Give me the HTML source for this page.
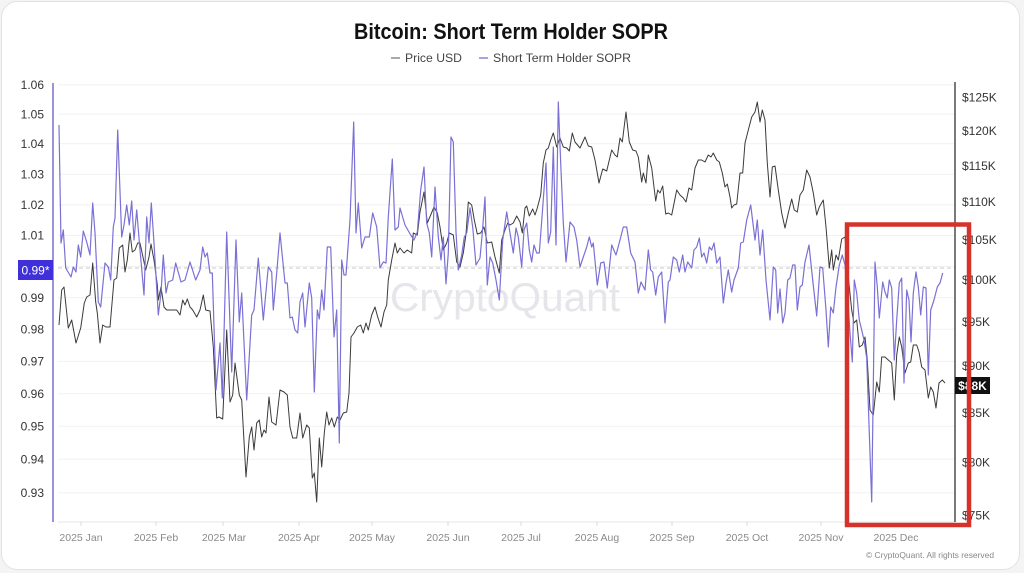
<!DOCTYPE html>
<html>
<head>
<meta charset="utf-8">
<style>
  html,body{margin:0;padding:0;background:#fff;}
  svg{display:block;}
  text{font-family:"Liberation Sans",sans-serif;}
</style>
</head>
<body>
<svg width="1024" height="573" viewBox="0 0 1024 573" xmlns="http://www.w3.org/2000/svg">
  <rect x="0" y="0" width="1024" height="573" fill="#f4f4f4"/>
  <rect x="1.5" y="1.5" width="1018" height="568" rx="16" ry="16" fill="#ffffff" stroke="#e2e2e2" stroke-width="1"/>

  <!-- Title -->
  <text x="511" y="39" text-anchor="middle" font-size="22" font-weight="bold" fill="#111" textLength="314" lengthAdjust="spacingAndGlyphs">Bitcoin: Short Term Holder SOPR</text>

  <!-- Legend -->
  <line x1="391" y1="58" x2="400" y2="58" stroke="#8c8c8c" stroke-width="1.5"/>
  <text x="405" y="62" font-size="11.5" fill="#444" textLength="57" lengthAdjust="spacingAndGlyphs">Price USD</text>
  <line x1="479" y1="58" x2="488" y2="58" stroke="#8a84d0" stroke-width="1.5"/>
  <text x="493" y="62" font-size="11.5" fill="#444" textLength="138" lengthAdjust="spacingAndGlyphs">Short Term Holder SOPR</text>

  <!-- Gridlines -->
  <g stroke="#f1f1f1" stroke-width="1">
    <line x1="58" y1="84.7" x2="955" y2="84.7"/>
    <line x1="58" y1="114.1" x2="955" y2="114.1"/>
    <line x1="58" y1="143.8" x2="955" y2="143.8"/>
    <line x1="58" y1="174.2" x2="955" y2="174.2"/>
    <line x1="58" y1="204.9" x2="955" y2="204.9"/>
    <line x1="58" y1="235.4" x2="955" y2="235.4"/>
    <line x1="58" y1="266.4" x2="955" y2="266.4"/>
    <line x1="58" y1="297.7" x2="955" y2="297.7"/>
    <line x1="58" y1="329.3" x2="955" y2="329.3"/>
    <line x1="58" y1="361.4" x2="955" y2="361.4"/>
    <line x1="58" y1="393.7" x2="955" y2="393.7"/>
    <line x1="58" y1="426.3" x2="955" y2="426.3"/>
    <line x1="58" y1="459.3" x2="955" y2="459.3"/>
    <line x1="58" y1="492.7" x2="955" y2="492.7"/>
  </g>
  <!-- x axis baseline -->
  <line x1="58" y1="522" x2="955" y2="522" stroke="#e4e4e4" stroke-width="1"/>
  <g stroke="#dcdcdc" stroke-width="1">
    <line x1="81" y1="522" x2="81" y2="526"/>
    <line x1="156" y1="522" x2="156" y2="526"/>
    <line x1="223" y1="522" x2="223" y2="526"/>
    <line x1="299" y1="522" x2="299" y2="526"/>
    <line x1="372" y1="522" x2="372" y2="526"/>
    <line x1="448" y1="522" x2="448" y2="526"/>
    <line x1="521" y1="522" x2="521" y2="526"/>
    <line x1="597" y1="522" x2="597" y2="526"/>
    <line x1="672" y1="522" x2="672" y2="526"/>
    <line x1="747" y1="522" x2="747" y2="526"/>
    <line x1="821" y1="522" x2="821" y2="526"/>
    <line x1="896" y1="522" x2="896" y2="526"/>
  </g>

  <!-- dashed current line -->
  <line x1="58" y1="268" x2="955" y2="268" stroke="#c9c9c9" stroke-width="1" stroke-dasharray="4,3"/>

  <!-- Watermark -->
  <text x="390" y="311" font-size="40" fill="#e5e5ea" textLength="230" lengthAdjust="spacingAndGlyphs">CryptoQuant</text>

  <!-- Axis lines -->
  <line x1="53" y1="83" x2="53" y2="522" stroke="#7f78d2" stroke-width="1.6"/>
  <line x1="955" y1="82" x2="955" y2="522" stroke="#222" stroke-width="1.2"/>

  <!-- Price series -->
  <polyline fill="none" stroke="#3a3a3a" stroke-width="1" stroke-linejoin="round" points="59,325 61.7,290 64,287 68.3,328 71.7,320 76,343 80.7,328 84.3,303 86.7,297 90,295 92.7,263 95.7,302 97.3,313 100,343 102.7,325 106,327 110,327 114,280 116.7,278 119.3,248 122.7,245 125,272 127.3,260 130,233 132.3,252 135,250 137.7,243 140,243 145.7,270 149,257 151,244 154,260 157.3,285 158.3,300 161,287 164,307 166.7,310 176.7,310 180,315 182.7,300 185,305 187.3,299 190,307 192.7,310 196.7,317 200,310 203.3,295 205.7,310 210,311 213.3,347 216.7,418 219,417 222.7,419 226.7,330 230,402 232.7,395 235,363 239.3,395 241.7,400 246,477 249.3,437 251.7,427 254,450 256.7,423 259.3,420 261.7,437 264,430 266,433 269,397 271.7,422 276,425 280,390 284,392 287.3,395 290,427 292.7,438 296.7,438 300,413 302.7,438 306.7,425 309.3,428 312.3,478 314.3,473 316.7,502 319.3,438 321.7,467 324.3,433 326.7,412 329,425 331.7,418 334.3,427 337.3,417 340,420 343.3,413 346.7,412 349,393 351,337 354,333 357.3,327 360.7,325 363.3,333 366,323 368.3,330 371.7,315 375,307 377.7,317 381,327 384,312 386.7,305 388.3,280 391.7,260 395,243 397.3,253 400,248 404,253 407.3,250 411.7,253 413.3,233 417.3,235 420,212 424,192 427.3,223 430.7,215 434,207 437.3,213 440,227 443.3,250 446.7,243 449.3,233 453.3,235 456.7,262 460,267 463.3,253 466,234 468.3,202 471.7,205 474.3,220 477.3,234 480.7,233 484,227 487.3,243 491.7,242 495,257 499.3,273 501.7,240 505,230 507.7,223 510,225 513.3,223 516.7,216 520,222 522.3,233 525,208 526.7,206 529.3,216 532.7,209 535,215 537.3,208 540.7,195 543.3,163 546,150 548.3,148 550.7,140 553.3,133 556.7,147 560,138 563.3,147 566.7,148 569.3,151 572.3,133 575,142 580,148 585,137 588.3,146 591.7,147 595,160 599,183 602.7,169 606.7,171 611.7,150 615,155 617.3,157 620,138 622.3,142 626,112 629.3,142 632.7,150 636,151 638.3,157 641.7,182 643.3,173 646,183 648.3,155 651.7,168 655.7,201 657.7,190 660,193 662.7,186 665.7,214 668.3,213 671.7,215 676.7,190 680,195 683.3,198 686,202 689,188 691.7,190 695,168 698.3,160 701.7,160 705,162 708.3,155 711,157 713.3,153 716.7,160 719.3,162 722.3,173 725,187 727.3,184 730,197 731.7,208 734,205 736.7,204 740,173 742.7,173 745,143 748.3,130 751.7,117 755,112 757.3,102 760,122 762.3,110 765,120 767.3,163 770,197 772.3,167 775,166 778.3,190 781.7,213 785,228 788.3,213 791.7,199 794.3,210 797.3,212 800,195 803.3,190 806.7,170 810,177 813.3,193 816.7,215 819.3,207 823.3,200 826,227 829.3,268 831.7,250 833.3,270 836,255 838.3,260 841.7,239 845,237 848.3,277 851.7,310 854,323 856.7,320 859.3,347 862.3,345 865,337 867.3,360 870,410 873.3,415 876.7,382 879.3,392 881.7,357 885,357 888.3,360 891.7,363 894.3,400 896.7,355 899.3,337 901.7,347 905,373 908.3,363 910.7,362 913.3,345 916.7,345 919,352 921.7,367 925,370 928.3,398 930.7,387 933.3,392 936,408 939,383 942.3,380 945,383"/>

  <!-- SOPR series -->
  <polyline fill="none" stroke="#7a70d6" stroke-width="1.2" stroke-linejoin="round" points="59,125 61,243 63.3,230 65.7,268 71,277 73.3,267 76,272 78.3,245 80.7,257 83.3,231 86.7,242 90,255 92.7,203 95,233 98.3,302 100.7,307 105,263 108.3,267 110.7,280 113.3,227 115,218 117.7,130 121.7,237 124,225 126.7,205 129.3,225 131.7,201 134,240 136.7,210 140,250 144,295 146.7,217 149,243 151.3,203 154,243 158.3,315 161,293 163.3,255 166,293 168.3,282 172.7,280 175.7,263 181,282 185,280 190,262 195.7,280 200,270 202.7,247 205,257 207.3,253 210,273 212.3,273 216,390 220,343 222.3,398 226.7,232 231.7,372 236,240 239.3,322 241.7,293 246.7,400 251.7,315 254,310 258.3,258 263.3,320 268.3,267 271.7,272 273.3,310 276.7,273 280,233 285,283 287.3,283 290,318 292.3,317 295,330 297.7,333 300,302 302.7,293 305,327 309.3,283 311.7,298 314.3,392 317.3,310 319.3,319 321.7,290 324,310 327.3,247 330.7,247 334,337 336.7,310 339.3,443 341.7,260 344,275 346,275 350,220 353.7,122 356,233 358.3,203 361.7,248 365,237 369.3,237 372.7,213 376.7,227 380,268 383.3,262 386,263 388.3,217 392.3,159 395,230 398.3,227 400,208 405,225 410.7,235 414,240 417.3,232 420.7,190 424,167 426.7,223 429.3,233 431.7,257 435,187 438.3,237 441,260 443.3,237 446,284 448.3,253 451,137 453.3,142 456,232 458.3,270 461.7,255 464.3,237 466.7,233 470,208 472.7,227 476,265 480,258 482.3,233 485,197 487.3,285 490,257 492.7,263 496,280 499.3,300 502.7,240 506.7,212 510,233 513.3,253 516,228 518.3,237 521.7,267 524,230 526.7,223 529.3,250 531.7,262 534,245 536.7,253 539.3,253 542.3,213 546,163 548.3,243 550.7,232 553.3,147 556,245 558.3,102 560.7,163 563.3,223 566,262 570,222 574,227 576.7,240 580,267 583.3,257 586.7,247 589.3,237 591.7,247 593.3,243 597.3,285 600.7,263 604,262 607.3,288 611.7,245 616,255 620,240 623.3,227 626.7,227 630.7,253 635,262 638.3,293 641,282 645,290 648.3,250 650.7,270 652.7,272 655.7,295 658.3,277 661.7,272 665,323 668.3,282 670,280 673.3,257 676.7,260 679.3,272 682.7,255 685,272 687.7,262 691.7,268 694,250 696.7,247 699.3,238 701.7,257 704,253 706.7,263 709.3,247 711.7,250 714,243 716.7,263 720,257 723.3,303 726,283 728.3,270 731.7,292 734,280 738.3,268 740.7,243 743.3,242 746.7,220 750.7,205 755,240 757.3,220 760,255 762.7,230 766,280 770,320 773.3,267 775.7,270 777.7,313 780,289 782.7,323 785,313 787.7,280 790,278 792.7,265 795,265 797.3,310 800,287 802.3,285 805,262 809,245 812.7,280 816.7,316 820,267 822.7,268 826,310 828.3,347 830.7,307 833.3,313 836,287 839.3,265 842.3,255 845,265 847.3,290 850,333 852.3,362 854.3,280 856.7,293 859.3,320 861.7,330 864,340 866.7,358 869.3,433 871.7,502 875,262 877.3,287 879.3,318 882.7,282 885,292 887.3,298 889.3,280 891.7,288 894.3,360 896.7,320 899.3,283 901.7,278 904,383 906.7,290 909,300 911,342 913.3,293 916,272 918.3,287 920.7,315 923.3,287 926,288 928.3,375 930.7,310 934,300 937.3,287 940,283 942.7,273"/>

  <!-- Left axis labels -->
  <g font-size="12" fill="#333" text-anchor="end">
    <text x="44" y="89">1.06</text>
    <text x="44" y="118.3">1.05</text>
    <text x="44" y="148">1.04</text>
    <text x="44" y="178.4">1.03</text>
    <text x="44" y="209.1">1.02</text>
    <text x="44" y="239.6">1.01</text>
    <text x="44" y="301.9">0.99</text>
    <text x="44" y="333.5">0.98</text>
    <text x="44" y="365.6">0.97</text>
    <text x="44" y="397.9">0.96</text>
    <text x="44" y="430.5">0.95</text>
    <text x="44" y="463.5">0.94</text>
    <text x="44" y="496.9">0.93</text>
  </g>
  <!-- current SOPR tag -->
  <rect x="18" y="260" width="35" height="20" fill="#3f30d9"/>
  <text x="35.5" y="274.5" font-size="12" fill="#fff" text-anchor="middle">0.99*</text>

  <!-- Right axis labels -->
  <g font-size="12" fill="#333">
    <text x="962" y="101.5">$125K</text>
    <text x="962" y="135">$120K</text>
    <text x="962" y="169.8">$115K</text>
    <text x="962" y="206">$110K</text>
    <text x="962" y="244.2">$105K</text>
    <text x="962" y="284">$100K</text>
    <text x="962" y="326">$95K</text>
    <text x="962" y="370.2">$90K</text>
    <text x="962" y="417">$85K</text>
    <text x="962" y="466.6">$80K</text>
    <text x="962" y="519.3">$75K</text>
  </g>
  <!-- current price tag -->
  <rect x="955" y="377" width="35" height="17" fill="#111"/>
  <text x="972.5" y="390" font-size="12" font-weight="bold" fill="#fff" text-anchor="middle">$88K</text>

  <!-- X axis labels -->
  <g font-size="10.5" fill="#8a8a8a" text-anchor="middle">
    <text x="81" y="541">2025 Jan</text>
    <text x="156" y="541">2025 Feb</text>
    <text x="224" y="541">2025 Mar</text>
    <text x="299" y="541">2025 Apr</text>
    <text x="372" y="541">2025 May</text>
    <text x="448" y="541">2025 Jun</text>
    <text x="521" y="541">2025 Jul</text>
    <text x="597" y="541">2025 Aug</text>
    <text x="672" y="541">2025 Sep</text>
    <text x="747" y="541">2025 Oct</text>
    <text x="821" y="541">2025 Nov</text>
    <text x="896" y="541">2025 Dec</text>
  </g>
  <text x="866" y="558" font-size="8.5" fill="#888" textLength="128" lengthAdjust="spacingAndGlyphs">© CryptoQuant. All rights reserved</text>

  <!-- Red highlight box -->
  <rect x="847" y="224.5" width="122" height="300.5" fill="none" stroke="#d6322b" stroke-width="4.5"/>
</svg>
</body>
</html>
